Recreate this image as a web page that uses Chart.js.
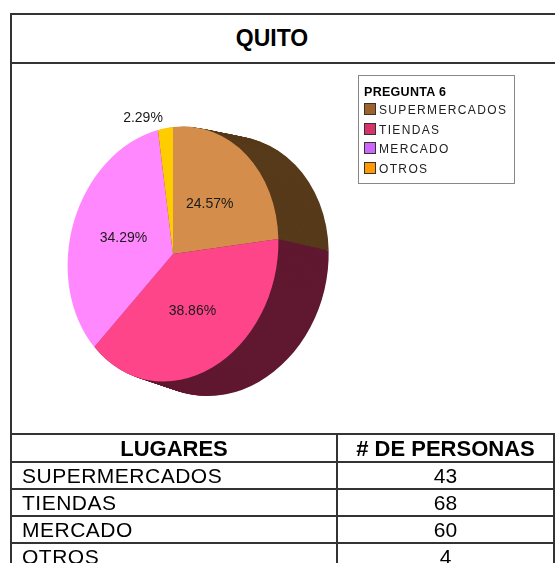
<!DOCTYPE html>
<html>
<head>
<meta charset="utf-8">
<script src="https://cdn.jsdelivr.net/npm/chart.js@4/dist/chart.umd.min.js"></script>
<style>
  html, body { margin: 0; padding: 0; background: #fff; }
  body { width: 555px; height: 563px; overflow: hidden; position: relative; font-family: Arial, "Liberation Sans", sans-serif; color: #000; }
  .marco { position: absolute; left: 10px; top: 13px; width: 560px; height: 600px; border: 2px solid #333; box-sizing: border-box; }
  .titulo { position: absolute; left: 10px; top: 13px; width: 560px; height: 51px; border: 2px solid #333; box-sizing: border-box;
            font-weight: bold; font-size: 23px; line-height: 47px; text-align: center; text-indent: -36px; }
  #zona { position: absolute; left: 12px; top: 65px; width: 543px; height: 369px; }
  .leyenda { position: absolute; left: 358px; top: 75px; width: 157px; height: 109px; border: 1px solid #888; box-sizing: border-box;
             font-size: 12px; padding: 9px 0 0 5px; }
  .leyenda b { display: block; font-size: 12.5px; letter-spacing: 0.3px; margin-bottom: 4px; }
  .leyenda div { height: 19.5px; line-height: 15px; letter-spacing: 1.35px; color: #222; white-space: nowrap; }
  .leyenda i { display: inline-block; width: 10px; height: 10px; border: 1px solid #333; vertical-align: -1px; margin-right: 3px; }
  table { position: absolute; left: 10px; top: 433px; border-collapse: collapse; }
  td, th { border: 2px solid #333; height: 25px; padding: 0; font-size: 21px; line-height: 25px; }
  th { height: 26px; font-size: 22px; font-weight: bold; text-align: center; }
  td.lug { padding-left: 10px; text-align: left; letter-spacing: 0.5px; }
  td.num { text-align: center; }
</style>
</head>
<body>
<div class="marco"></div>
<div class="titulo">QUITO</div>
<canvas id="pastel"></canvas>
<div class="leyenda" id="leyenda"><b>PREGUNTA 6</b></div>
<table id="tabla"></table>
<script>
const lugares = ['SUPERMERCADOS', 'TIENDAS', 'MERCADO', 'OTROS'];
const personas = [43, 68, 60, 4];
const coloresCara = ['#D48D4A', '#FF4589', '#FF88FF', '#FFCC00'];
const coloresLado = ['#573A1A', '#601830', '#6A2A6A', '#7A6000'];
const coloresLeyenda = ['#A0622D', '#D6336A', '#CC66FF', '#FF9900'];

// leyenda y tabla
const ley = document.getElementById('leyenda');
lugares.forEach((l, i) => {
  const d = document.createElement('div');
  d.innerHTML = '<i style="background:' + coloresLeyenda[i] + '"></i>' + l;
  ley.appendChild(d);
});
const tabla = document.getElementById('tabla');
let filas = '<tr><th style="width:334px">LUGARES</th><th style="width:223px"># DE PERSONAS</th></tr>';
lugares.forEach((l, i) => {
  filas += '<tr><td class="lug">' + l + '</td><td class="num">' + personas[i] + '</td></tr>';
});
tabla.innerHTML = filas;

const total = personas.reduce((a, b) => a + b, 0);
const aplasta = 0.83;   // el circulo se ve como elipse
const inclina = -0.11;  // lado derecho un poco mas alto
const fondoX = 45, fondoY = 12, creceX = 0.05, creceY = 0.02;

function cara(ctx, cx, cy, t) {
  ctx.translate(cx + fondoX * t, cy + fondoY * t);
  ctx.transform(1, inclina, 0, 1, 0, 0);
  ctx.scale(aplasta * (1 + creceX * t), 1 + creceY * t);
  ctx.translate(-cx, -cy);
}

const pastel3d = {
  id: 'pastel3d',
  beforeDatasetsDraw(chart) {
    const ctx = chart.ctx;
    const arcos = chart.getDatasetMeta(0).data;
    const cx = arcos[0].x, cy = arcos[0].y;
    const pasos = 40;
    for (let i = pasos; i >= 1; i--) {
      ctx.save();
      cara(ctx, cx, cy, i / pasos);
      arcos.forEach((arco, j) => {
        const orig = arco.options;
        arco.options = Object.assign({}, orig, { backgroundColor: coloresLado[j], borderWidth: 0 });
        arco.draw(ctx);
        arco.options = orig;
      });
      ctx.restore();
    }
    ctx.save();
    cara(ctx, cx, cy, 0);
  },
  afterDatasetsDraw(chart) {
    const ctx = chart.ctx;
    ctx.restore();
    const arcos = chart.getDatasetMeta(0).data;
    ctx.save();
    ctx.font = '14px Arial, "Liberation Sans", sans-serif';
    ctx.fillStyle = '#1a1a1a';
    ctx.textBaseline = 'middle';
    arcos.forEach((arco, j) => {
      const p = arco.getProps(['x', 'y', 'startAngle', 'endAngle', 'outerRadius']);
      const medio = (p.startAngle + p.endAngle) / 2;
      const pct = (personas[j] / total * 100).toFixed(2) + '%';
      const fuera = personas[j] / total < 0.05;
      const r = p.outerRadius * (fuera ? 1.08 : 0.5);
      const ux = Math.cos(medio) * r * aplasta;
      const uy = Math.sin(medio) * r + inclina * ux;
      ctx.textAlign = fuera ? 'right' : 'center';
      ctx.fillText(pct, p.x + ux - (fuera ? 2 : 0), p.y + uy);
    });
    ctx.restore();
  }
};

const lienzo = document.getElementById('pastel');
const zona = document.createElement('div');
zona.id = 'zona';
lienzo.parentNode.insertBefore(zona, lienzo);
zona.appendChild(lienzo);

new Chart(lienzo, {
  type: 'pie',
  data: {
    labels: lugares,
    datasets: [{
      data: personas,
      backgroundColor: coloresCara,
      borderWidth: 0
    }]
  },
  options: {
    responsive: true,
    maintainAspectRatio: false,
    animation: false,
    events: [],
    layout: { padding: { top: 62, bottom: 53, left: 34, right: 255 } },
    plugins: {
      legend: { display: false },
      tooltip: { enabled: false }
    }
  },
  plugins: [pastel3d]
});
</script>
</body>
</html>
